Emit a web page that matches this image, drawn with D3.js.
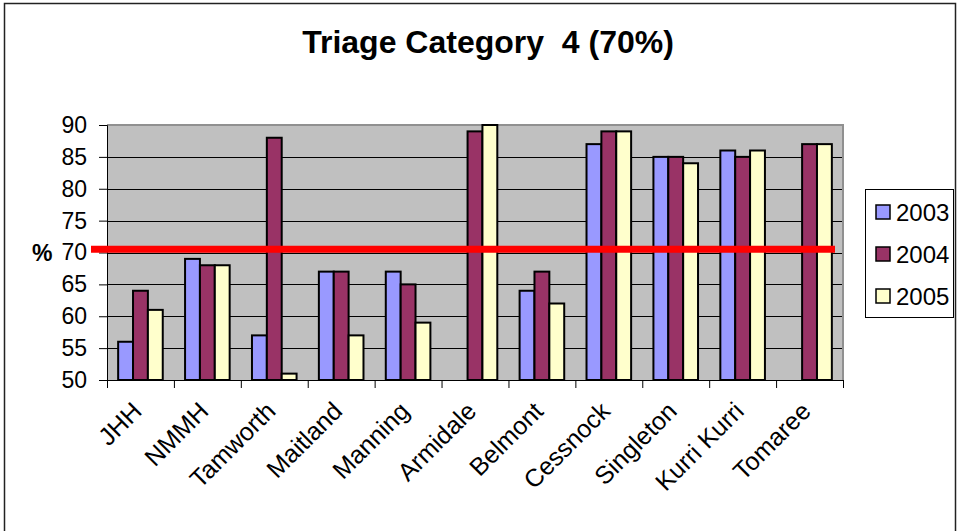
<!DOCTYPE html>
<html>
<head>
<meta charset="utf-8">
<script src="https://cdn.jsdelivr.net/npm/d3@7"></script>
<style>
    body { margin: 0; background: #fff; }
    svg { display: block; font-family: Arial, "Liberation Sans", sans-serif; }
</style>
</head>
<body>
<div id="chart"></div>
<script>
const sites = ["JHH", "NMMH", "Tamworth", "Maitland", "Manning", "Armidale",
    "Belmont", "Cessnock", "Singleton", "Kurri Kurri", "Tomaree"];
const years = ["2003", "2004", "2005"];
const values2003 = [56, 69, 57, 67, 67, null, 64, 87, 85, 86, null];
const values2004 = [64, 68, 88, 67, 65, 89, 67, 89, 85, 85, 87];
const values2005 = [61, 68, 51, 57, 59, 90, 62, 89, 84, 86, 87];
const yTicks = [50, 55, 60, 65, 70, 75, 80, 85, 90];
const target = 70.5;
const colors = ["#9999ff", "#993366", "#ffffcc"];

const width = 957, height = 531;
const plot = {left: 107, right: 843, top: 125, bottom: 380};

const seriesValues = [values2003, values2004, values2005];

const svg = d3.select("#chart").append("svg")
    .attr("width", width)
    .attr("height", height);

// outer chart border
svg.append("path")
    .attr("d", `M4.5,${height} V3.5 H955.5 V${height}`)
    .attr("fill", "none")
    .attr("stroke", "#222")
    .attr("stroke-width", 1.5);

svg.append("text")
    .attr("x", 488)
    .attr("y", 53)
    .attr("text-anchor", "middle")
    .style("font-size", "32px")
    .style("font-weight", "bold")
    .style("white-space", "pre")
    .text("Triage Category  4 (70%)");

const y = d3.scaleLinear()
    .domain([50, 90])
    .range([plot.bottom, plot.top]);

const x = d3.scaleBand()
    .domain(sites)
    .range([plot.left, plot.right])
    .paddingInner(1 / 3)
    .paddingOuter(1 / 6);

const x1 = d3.scaleBand()
    .domain(years)
    .range([0, x.bandwidth()]);

// plot background
svg.append("rect")
    .attr("x", plot.left)
    .attr("y", plot.top)
    .attr("width", plot.right - plot.left)
    .attr("height", plot.bottom - plot.top)
    .attr("fill", "#c0c0c0");

// gridlines
svg.append("g")
    .selectAll("line")
    .data(yTicks.slice(1, -1))
    .join("line")
    .attr("x1", plot.left)
    .attr("x2", plot.right)
    .attr("y1", d => Math.round(y(d)) + 0.5)
    .attr("y2", d => Math.round(y(d)) + 0.5)
    .attr("stroke", "#000")
    .attr("stroke-width", 1);

// gray frame top / right
svg.append("path")
    .attr("d", `M${plot.left},${plot.top} H${plot.right} V${plot.bottom}`)
    .attr("fill", "none")
    .attr("stroke", "#909090")
    .attr("stroke-width", 2);

// bars
const groups = svg.append("g")
    .selectAll("g")
    .data(sites)
    .join("g")
    .attr("transform", d => `translate(${x(d)},0)`);

groups.selectAll("rect")
    .data((d, i) => years.map((yr, j) => ({year: yr, value: seriesValues[j][i], color: colors[j]})))
    .join("rect")
    .filter(d => d.value != null)
    .attr("x", d => x1(d.year))
    .attr("y", d => y(d.value))
    .attr("width", x1.bandwidth())
    .attr("height", d => y(50) - y(d.value))
    .attr("fill", d => d.color)
    .attr("stroke", "#000")
    .attr("stroke-width", 2);

// y axis
const yAxis = svg.append("g")
    .attr("transform", `translate(${plot.left},0)`)
    .call(d3.axisLeft(y).tickValues(yTicks).tickSize(8).tickPadding(12));
yAxis.select(".domain").attr("stroke", "#000");
yAxis.selectAll("text")
    .style("font-size", "23px")
    .attr("fill", "#000");

svg.append("text")
    .attr("x", 32)
    .attr("y", y(70))
    .attr("dy", "0.36em")
    .style("font-size", "23px")
    .style("font-weight", "bold")
    .text("%");

// x axis: ticks on category boundaries
const xb = d3.scaleLinear()
    .domain([0, sites.length])
    .range([plot.left, plot.right]);
const xAxis = svg.append("g")
    .attr("transform", `translate(0,${plot.bottom})`)
    .call(d3.axisBottom(xb).tickValues(d3.range(sites.length + 1)).tickSize(8).tickFormat(""));
xAxis.select(".domain").attr("stroke", "#000");

svg.append("g")
    .selectAll("text")
    .data(sites)
    .join("text")
    .attr("transform", d => `translate(${x(d) + x.bandwidth() / 2 - 10},${plot.bottom + 20}) rotate(-45)`)
    .attr("text-anchor", "end")
    .attr("dy", "0.72em")
    .style("font-size", "25px")
    .text(d => d);

// target line
svg.append("line")
    .attr("x1", 91)
    .attr("x2", 835)
    .attr("y1", y(target))
    .attr("y2", y(target))
    .attr("stroke", "#ff0000")
    .attr("stroke-width", 7);

// legend
const legend = svg.append("g")
    .attr("transform", "translate(865,189)");
legend.append("rect")
    .attr("x", 0.5)
    .attr("y", 0.5)
    .attr("width", 88)
    .attr("height", 128)
    .attr("fill", "#fff")
    .attr("stroke", "#000");
const items = legend.selectAll("g.item")
    .data(years)
    .join("g")
    .attr("class", "item")
    .attr("transform", (d, i) => `translate(0,${23 + i * 42})`);
items.append("rect")
    .attr("x", 11)
    .attr("y", -7)
    .attr("width", 14)
    .attr("height", 14)
    .attr("fill", (d, i) => colors[i])
    .attr("stroke", "#000")
    .attr("stroke-width", 1.5);
items.append("text")
    .attr("x", 31)
    .attr("dy", "0.36em")
    .style("font-size", "24px")
    .text(d => d);
</script>
</body>
</html>
